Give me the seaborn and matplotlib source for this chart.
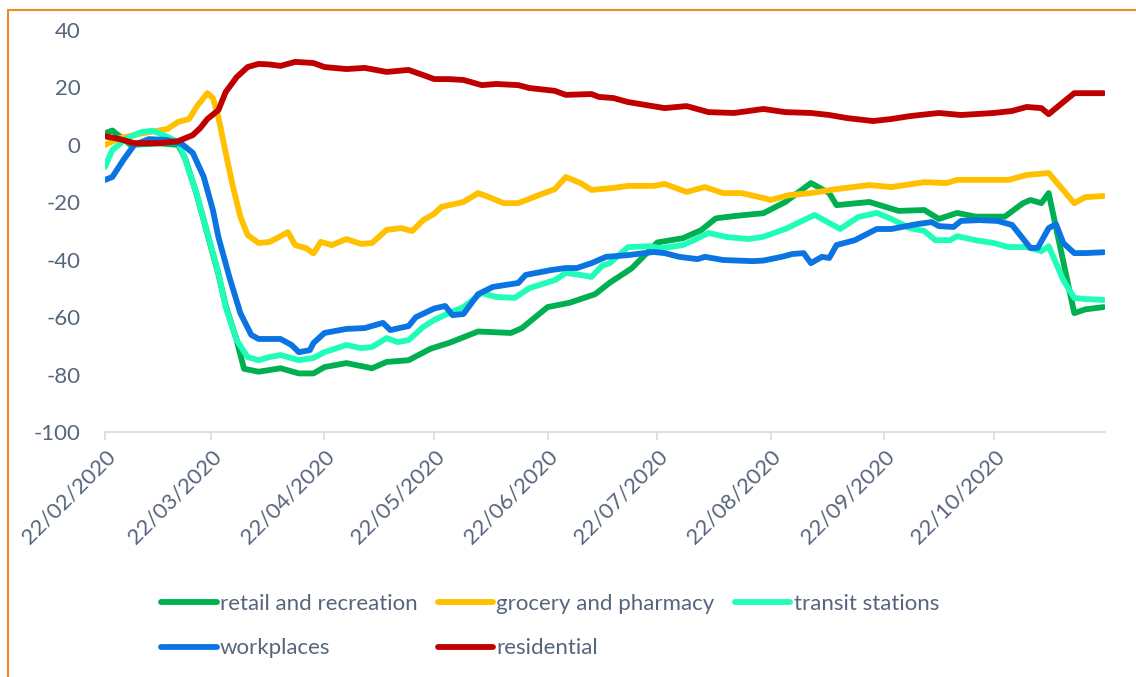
import matplotlib.pyplot as plt
import matplotlib.dates as mdates
from matplotlib.lines import Line2D
import seaborn as sns
import pandas as pd

# days since 22/02/2020 and mobility change (%)
retail_days = [0, 2, 7, 15, 20, 22, 25, 28, 31, 33, 36, 38, 42, 45, 48, 53, 57, 60, 66, 73, 77, 83, 89,
               94, 102, 111, 114, 121, 127, 134, 138, 144, 151, 158, 163, 167, 172, 180, 186, 193, 198,
               200, 209, 217, 224, 228, 233, 238, 246, 251, 253, 256, 258, 265, 268, 273]
retail_vals = [4, 5, 0, 0.5, 0, -5, -17, -31, -45, -56, -68, -78, -79, -78.4, -77.8, -79.6, -79.6, -77.4,
               -76, -77.8, -75.6, -75, -71, -69, -65, -65.5, -63.8, -56.5, -55, -52, -48, -43, -34,
               -32.5, -29.7, -25.6, -24.8, -23.8, -19.9, -13.3, -16.8, -21, -19.9, -23, -22.7, -25.8,
               -23.7, -25, -25, -20.3, -19.2, -20.3, -16.8, -58.6, -57.3, -56.5]

grocery_days = [0, 4, 10, 17, 20, 23, 25, 28, 29.5, 31, 33, 35, 37, 39, 42, 45, 47, 50, 52, 55, 57, 59,
                62, 66, 70, 73, 77, 81, 84, 87, 90, 92, 98, 102, 105, 109, 113, 118, 123, 126, 130, 133,
                139, 143, 150, 153, 159, 164, 169, 174, 180, 182, 187, 193, 200, 209, 215, 224, 230, 233,
                243, 247, 252, 258, 265, 268, 273]
grocery_vals = [0, 2.3, 4, 5.5, 8, 9, 13.2, 18, 16.3, 9.7, -2.8, -14.7, -25, -31.4, -34.2, -33.8, -32.5,
                -30.4, -34.9, -36, -37.8, -33.8, -34.9, -32.8, -34.5, -34.2, -29.6, -29, -30, -26.2, -24,
                -21.6, -19.9, -16.8, -18.2, -20.3, -20.3, -17.8, -15.4, -11.2, -13.3, -15.7, -15, -14.3,
                -14.3, -13.6, -16.4, -14.7, -16.8, -16.8, -18.5, -19.2, -17.5, -16.8, -15.4, -14, -14.7,
                -13, -13.3, -12.2, -12.2, -12.2, -10.5, -9.8, -20.3, -18.2, -17.8]

transit_days = [0, 2, 6, 10, 13, 16, 20, 22, 25, 28, 31, 33, 36, 39, 42, 45, 48, 53, 57, 60, 66, 70, 73,
                77, 80, 83, 87, 90, 94, 98, 103, 107, 112, 116, 123, 126, 131, 133, 136, 138, 143, 149,
                152, 158, 161, 165, 170, 176, 180, 186, 194, 201, 206, 211, 215, 220, 224, 227, 231, 233,
                238, 243, 247, 252, 256, 258, 262, 265, 268, 273]
transit_vals = [-7.7, -1.8, 2.3, 4.5, 4.9, 3.4, 1, -5.3, -16.8, -30.7, -44.6, -56.5, -68, -73.9, -75,
                -73.9, -73.2, -75, -74.2, -72.2, -69.7, -70.8, -70.4, -67.3, -68.7, -68, -63.4, -61,
                -58.6, -56.5, -51.6, -53, -53.3, -49.9, -47.1, -44.6, -45.5, -46, -42, -41.2, -35.6,
                -35.3, -36, -34.9, -33.2, -30.7, -32.1, -32.8, -32, -29.3, -24.4, -29.3, -25.1, -23.7,
                -25.8, -29, -30, -33.2, -33.2, -31.8, -33.2, -34.2, -35.6, -35.6, -37, -35.3, -47.1,
                -53.3, -53.7, -54]

work_days = [0, 2, 5, 8, 12, 17, 21, 24, 27, 29.5, 31, 34, 37, 40, 42, 45, 48, 51, 53, 56, 57, 60, 66,
             71, 76, 78, 83, 85, 90, 93, 95, 98, 102, 106, 113, 115, 122, 126, 129, 133, 137, 143, 150,
             153, 157, 162, 164, 169, 177, 180, 185, 188, 191, 193, 196, 198, 200, 205, 211, 215, 222,
             226, 228, 232, 234, 239, 244, 248, 253, 255, 258, 260, 262, 265, 268, 273]
work_vals = [-12.2, -11.2, -5.3, 0, 2, 1.7, 0.3, -2.8, -11.2, -22.7, -32.1, -46, -58.6, -66.2, -67.6,
             -67.6, -67.6, -69.7, -72.2, -71.5, -69, -65.5, -64.1, -63.8, -62, -64.5, -63.1, -60, -57,
             -56.1, -59.3, -58.9, -52, -49.5, -48.1, -45.3, -43.6, -42.9, -42.9, -41.2, -39, -38.4,
             -37.3, -37.7, -39, -39.8, -39, -40.1, -40.5, -40.3, -39, -38, -37.7, -41.2, -39, -39.4,
             -34.9, -33.2, -29.3, -29.3, -27.6, -26.9, -28.3, -28.6, -26.5, -26.2, -26.5, -27.9, -35.9,
             -35.9, -29, -27.6, -34.2, -37.7, -37.7, -37.4]

resid_days = [0, 4, 8, 15, 20, 24, 26, 28, 31, 33, 36, 39, 42, 45, 48, 52, 57, 60, 66, 71, 77, 83, 87,
              90, 94, 98, 103, 107, 113, 116, 123, 126, 133, 135, 139, 143, 153, 159, 165, 172, 180, 186,
              193, 198, 203, 210, 215, 220, 225, 228, 234, 243, 248, 252, 256, 258, 262, 265, 273]
resid_vals = [3, 2, 0.6, 0.6, 1.3, 3.4, 5.8, 9, 12.1, 18.4, 23.6, 27.1, 28.2, 28, 27.5, 28.9, 28.5, 27.1,
              26.4, 26.8, 25.4, 26.1, 24.3, 22.9, 22.9, 22.6, 20.8, 21.2, 20.8, 19.8, 18.8, 17.4, 17.7,
              16.7, 16.3, 14.9, 12.8, 13.5, 11.4, 11.1, 12.5, 11.4, 11.1, 10.4, 9.3, 8.3, 9, 10, 10.7,
              11.1, 10.4, 11.1, 11.8, 13.2, 12.8, 10.7, 14.9, 18, 18]

series_names = ['retail and recreation', 'grocery and pharmacy', 'transit stations',
                'workplaces', 'residential']
series_colors = ['#00B050', '#FFC000', '#1FFDB8', '#0A74E2', '#C00000']
tick_dates = ['2020-02-22', '2020-03-22', '2020-04-22', '2020-05-22', '2020-06-22',
              '2020-07-22', '2020-08-22', '2020-09-22', '2020-10-22']
y_ticks = [-100, -80, -60, -40, -20, 0, 20, 40]

start = pd.Timestamp('2020-02-22')
frames = []
for name, d, v in zip(series_names,
                      [retail_days, grocery_days, transit_days, work_days, resid_days],
                      [retail_vals, grocery_vals, transit_vals, work_vals, resid_vals]):
    frames.append(pd.DataFrame({'date': start + pd.to_timedelta(d, unit='D'),
                                'value': v, 'series': name}))
df = pd.concat(frames, ignore_index=True)

sns.set_style('white')
plt.rcParams['font.family'] = ['Lato', 'DejaVu Sans']
plt.rcParams['axes.unicode_minus'] = False
text_color = '#56657C'

fig = plt.figure(figsize=(11.36, 6.77), dpi=100)
ax = fig.add_axes([105 / 1136, 1 - 432 / 677, 1000 / 1136, 402 / 677])

sns.lineplot(data=df, x='date', y='value', hue='series', hue_order=series_names,
             palette=series_colors, estimator=None, sort=False, linewidth=4.2,
             legend=False, ax=ax)
for ln in ax.lines:
    ln.set_solid_capstyle('round')
    ln.set_solid_joinstyle('round')

ax.set_xlim(start, start + pd.Timedelta(days=273.4))
ax.set_ylim(-100, 40)
ax.set_yticks(y_ticks)
ax.set_xticks(pd.to_datetime(tick_dates))
ax.xaxis.set_major_formatter(mdates.DateFormatter('%d/%m/%Y'))
ax.set_xlabel('')
ax.set_ylabel('')

for side in ['left', 'right', 'top']:
    ax.spines[side].set_visible(False)
ax.spines['bottom'].set_color('#D9D9D9')
ax.spines['bottom'].set_linewidth(1.2)
ax.tick_params(axis='x', which='major', bottom=True, length=6, width=1.2, color='#D9D9D9',
               labelsize=16, labelcolor=text_color, pad=4)
ax.tick_params(axis='y', left=False, labelsize=16, labelcolor=text_color, pad=14)
for lab in ax.get_xticklabels():
    lab.set_rotation(45)
    lab.set_ha('right')
    lab.set_va('top')
    lab.set_rotation_mode('anchor')

# legend fills column by column, so order entries to read row by row
legend_order = [0, 3, 1, 4, 2]
handles = [Line2D([0], [0], color=series_colors[i], lw=4.2, solid_capstyle='round')
           for i in legend_order]
labels = [series_names[i] for i in legend_order]
fig.legend(handles, labels, ncol=3, loc='upper left',
           bbox_to_anchor=(141 / 1136, 1 - 574 / 677), frameon=False, fontsize=16,
           labelcolor=text_color, handlelength=2.5, handletextpad=0.15,
           columnspacing=0.9, labelspacing=1.1)

# orange outer border of the chart area
fig.add_artist(Line2D([8 / 1136, 8 / 1136], [0, 1 - 10 / 677], transform=fig.transFigure,
                      color='#F0892A', lw=1.5))
fig.add_artist(Line2D([8 / 1136, 1], [1 - 10 / 677, 1 - 10 / 677], transform=fig.transFigure,
                      color='#F0892A', lw=1.5))

fig.savefig('out.png', dpi=100)
